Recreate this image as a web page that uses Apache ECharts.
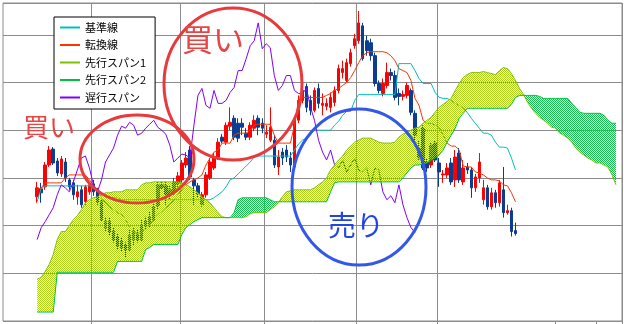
<!DOCTYPE html>
<html><head><meta charset="utf-8">
<script src="https://cdn.jsdelivr.net/npm/echarts@6/dist/echarts.min.js"></script>
<style>html,body{margin:0;padding:0;background:#fff}#c{width:624px;height:324px}</style>
</head><body><div id="c"></div>
<script>
// ---- data (price units) ----
const opens = [1085,1093,1095,1117,1133,1121,1108,1120,1102,1099,
1085,1092,1080,1090,1098,1092,1080,1054,1060,1050,
1045,1040,1037,1032,1042,1047,1042,1055,1057,1062,
1076,1097,1096,1086,1090,1098,1102,1117,1132,1102,
1096,1077,1087,1104,1114,1125,1145,1140,1156,1164,
1159,1159,1149,1145,1154,1164,1159,1148,1142,1142,
1115,1130,1132,1124,1115,1162,1182,1196,1182,1172,
1194,1177,1176,1175,1180,1192,1210,1202,1219,1237,
1242,1257,1242,1240,1227,1199,1189,1197,1210,1207,
1189,1186,1187,1192,1169,1124,1154,1120,1117,1139,
1119,1107,1107,1119,1102,1129,1100,1115,1112,1094,
1104,1082,1094,1075,1089,1079,1092,1069,1071,1051];
const closes = [1094,1089,1117,1132,1119,1109,1123,1104,1095,1087,
1090,1077,1095,1097,1090,1080,1062,1060,1049,1042,
1035,1034,1032,1046,1050,1042,1057,1061,1065,1075,
1097,1094,1087,1092,1100,1106,1119,1124,1105,1096,
1088,1087,1107,1120,1125,1140,1141,1157,1160,1145,
1144,1155,1145,1157,1162,1155,1154,1150,1155,1117,
1125,1124,1125,1117,1162,1182,1192,1175,1172,1192,
1179,1179,1179,1185,1192,1214,1214,1220,1230,1244,
1260,1224,1232,1227,1199,1192,1199,1210,1207,1185,
1186,1188,1197,1170,1147,1134,1114,1114,1137,1122,
1110,1108,1114,1100,1125,1102,1114,1112,1094,1105,
1120,1094,1075,1089,1079,1099,1069,1071,1050,1048];
const lows = [1079,1079,1092,1115,1117,1106,1105,1100,1092,1082,
1077,1074,1077,1087,1086,1077,1060,1050,1046,1039,
1032,1030,1024,1030,1036,1039,1040,1052,1054,1060,
1072,1092,1077,1082,1087,1094,1099,1114,1102,1077,
1084,1075,1084,1102,1112,1122,1139,1137,1152,1142,
1140,1147,1142,1142,1151,1147,1149,1144,1140,1114,
1107,1117,1120,1110,1112,1159,1179,1170,1167,1170,
1174,1167,1172,1170,1176,1189,1204,1200,1216,1234,
1239,1222,1227,1222,1196,1189,1186,1194,1202,1182,
1177,1182,1184,1167,1142,1122,1112,1110,1114,1120,
1095,1099,1104,1097,1095,1099,1097,1108,1084,1090,
1099,1077,1072,1072,1074,1075,1064,1067,1045,1046];
const highs = [1100,1099,1120,1136,1135,1124,1126,1124,1104,1102,
1097,1096,1097,1100,1102,1094,1082,1064,1064,1054,
1048,1044,1039,1052,1054,1052,1062,1065,1070,1079,
1100,1100,1100,1096,1104,1110,1122,1130,1136,1104,
1099,1090,1110,1124,1129,1144,1148,1160,1175,1167,
1164,1164,1154,1160,1167,1167,1164,1157,1175,1147,
1132,1134,1137,1130,1164,1187,1197,1199,1187,1195,
1199,1189,1184,1190,1196,1218,1222,1224,1234,1249,
1272,1260,1247,1244,1230,1202,1204,1220,1214,1212,
1194,1192,1200,1194,1172,1142,1157,1124,1140,1142,
1124,1112,1119,1124,1132,1134,1122,1119,1115,1108,
1129,1102,1097,1094,1092,1102,1115,1077,1074,1059];
const tenkan = [1092,1094,1099,1099,1099,1099,1099,1104,1107,1107,
1107,1107,1107,1102,1097,1092,1084,1079,1075,1072,
1069,1067,1062,1054,1050,1047,1050,1052,1057,1062,
1067,1070,1074,1077,1082,1087,1092,1097,1100,1102,
1104,1107,1117,1124,1130,1132,1139,1139,1139,1147,
1149,1149,1149,1152,1157,1158,1158,1158,1158,1147,
1139,1139,1139,1139,1157,1182,1185,1185,1185,1185,
1185,1185,1187,1189,1192,1194,1197,1200,1205,1212,
1220,1227,1230,1231,1231,1231,1231,1230,1227,1222,
1214,1212,1210,1202,1184,1177,1162,1159,1159,1157,
1155,1147,1139,1136,1136,1132,1116,1115,1115,1110,
1109,1107,1104,1102,1102,1101,1097,1096,1089,1080];
const kijun = [1080,1094,1096,1096,1096,1096,1096,1096,1096,1096,
1096,1096,1096,1096,1094,1092,1089,1085,1085,1084,
1084,1082,1082,1082,1082,1082,1082,1082,1082,1082,
1082,1082,1082,1082,1082,1082,1082,1082,1082,1082,
1082,1082,1082,1082,1084,1087,1090,1095,1102,1104,
1108,1112,1116,1120,1125,1126,1126,1126,1126,1126,
1126,1126,1126,1126,1132,1138,1142,1144,1150,1152,
1152,1152,1152,1152,1157,1161,1167,1171,1171,1182,
1188,1188,1188,1188,1188,1188,1188,1188,1188,1188,
1219,1219,1219,1219,1212,1204,1199,1199,1199,1190,
1185,1184,1184,1182,1179,1177,1174,1170,1164,1159,
1154,1149,1149,1147,1140,1135,1135,1134,1124,1112];
const chikou = [1042,1054,1060,1067,1074,1087,1097,1094,1090,1100,
1112,1124,1126,1114,1097,1090,1102,1120,1127,1134,
1147,1156,1154,1160,1157,1147,1149,1154,1158,1162,
1155,1152,1148,1137,1120,1124,1128,1127,1124,1157,
1187,1194,1177,1174,1192,1179,1179,1182,1190,1195,
1212,1212,1224,1237,1242,1260,1234,1239,1235,1207,
1192,1197,1207,1207,1192,1189,1189,1194,1175,1162,
1142,1130,1122,1132,1117,1114,1122,1110,1117,1124,
1112,1110,1114,1097,1114,1112,1090,1082,1086,1079,
1097,1077,1064,1054,1049];
const senkouA = [1002,1004,1010,1017,1027,1042,1050,1050,1056,1062,
1066,1072,1079,1082,1084,1085,1087,1089,1089,1090,
1090,1090,1092,1092,1092,1092,1097,1099,1099,1100,
1100,1100,1100,1100,1100,1100,1099,1097,1095,1092,
1089,1085,1082,1079,1074,1069,1065,1064,1064,1064,
1064,1064,1065,1068,1069,1069,1069,1069,1072,1075,
1079,1085,1090,1091,1092,1092,1092,1092,1092,1094,
1097,1100,1104,1112,1117,1122,1126,1132,1136,1140,
1142,1144,1144,1144,1142,1140,1139,1139,1139,1140,
1145,1148,1150,1152,1154,1155,1159,1162,1165,1170,
1175,1178,1181,1184,1192,1199,1205,1208,1210,1210,
1210,1211,1210,1209,1208,1212,1215,1214,1209,1202,
1194,1188,1180,1174,1169,1165,1162,1159,1155,1154,
1149,1147,1144,1140,1134,1130,1127,1124,1122,1119,
1119,1117,1115,1107,1097];
const senkouB = [969,969,969,969,969,1009,1009,1009,1009,1009,
1009,1009,1009,1009,1009,1009,1009,1009,1009,1009,
1020,1020,1020,1020,1020,1020,1020,1032,1034,1037,
1037,1037,1037,1037,1037,1037,1047,1054,1057,1060,
1062,1064,1064,1064,1064,1064,1064,1064,1064,1069,
1082,1084,1084,1084,1084,1084,1084,1084,1082,1080,
1080,1080,1080,1080,1080,1080,1080,1080,1080,1080,
1080,1080,1080,1090,1099,1100,1100,1100,1100,1100,
1100,1100,1100,1100,1100,1100,1100,1100,1100,1100,
1100,1104,1109,1114,1117,1117,1118,1119,1122,1124,
1127,1132,1140,1147,1154,1164,1169,1174,1174,1174,
1174,1174,1174,1174,1174,1174,1174,1174,1178,1185,
1187,1187,1187,1187,1187,1186,1184,1184,1184,1184,
1184,1184,1184,1179,1175,1170,1169,1169,1169,1169,
1169,1167,1162,1159,1159];
const monthStarts = [14, 36, 57, 80, 100];   // day index where a new month begins
const extraTicks = [129, 139];
const legendNames = ['基準線','転換線','先行スパン1','先行スパン2','遅行スパン'];

// ---- build ----
const PAD = 8, NCAT = 154;
const categories = Array.from({length: NCAT}, (_, k) => String(k - PAD));
const pair = arr => arr.map((v, i) => [String(i), v]);
const candleData = opens.map((o, i) => [String(i), o, closes[i], lows[i], highs[i]]);
const cloudBase = senkouA.map((a, k) => [String(k), Math.min(a, senkouB[k])]);
const cloudUp = senkouA.map((a, k) => [String(k), Math.max(a - senkouB[k], 0)]);
const cloudDn = senkouA.map((a, k) => [String(k), Math.max(senkouB[k] - a, 0)]);

function checker(color) {
  const c = document.createElement('canvas');
  c.width = 2; c.height = 2;
  const g = c.getContext('2d');
  g.fillStyle = color;
  g.fillRect(0, 0, 1, 1); g.fillRect(1, 1, 1, 1);
  return c;
}
const patYellow = checker('#a8d418');
const patGreen = checker('#10c048');

const GRID = '#8c8c8c';
const chart = echarts.init(document.getElementById('c'), null, {renderer: 'canvas'});
const lineBase = {type: 'line', symbol: 'none', showSymbol: false, silent: true, animation: false};

chart.setOption({
  animation: false,
  backgroundColor: '#fff',
  grid: {left: 3, right: 2, top: 3, bottom: 3, show: true, borderColor: GRID, borderWidth: 1, backgroundColor: '#fff'},
  xAxis: [{
    type: 'category', data: categories, boundaryGap: true,
    axisLine: {show: false}, axisLabel: {show: false},
    axisTick: {show: true, length: 4, interval: (idx) => monthStarts.includes(idx - PAD), lineStyle: {color: GRID}},
    splitLine: {show: true, interval: (idx) => monthStarts.includes(idx - PAD), lineStyle: {color: GRID, width: 1}}
  }, {
    type: 'category', data: categories, boundaryGap: true, position: 'bottom',
    axisLine: {show: false}, axisLabel: {show: false}, splitLine: {show: false},
    axisTick: {show: true, alignWithLabel: true, length: 4, interval: (idx) => extraTicks.includes(idx - PAD), lineStyle: {color: GRID}}
  }],
  yAxis: {
    type: 'value', min: 960, max: 1280, interval: 48,
    axisLine: {show: false}, axisTick: {show: false}, axisLabel: {show: false},
    splitLine: {show: true, lineStyle: {color: GRID, width: 1}}
  },
  legend: {
    show: true, orient: 'vertical', left: 54, top: 17,
    padding: [4, 9, 5, 6], itemWidth: 20, itemHeight: 2, itemGap: 4.5, icon: 'rect',
    backgroundColor: '#fff', borderColor: '#000', borderWidth: 1, borderRadius: 0,
    selectedMode: false, z: 20,
    textStyle: {fontSize: 11, lineHeight: 13, color: '#000', fontFamily: '"Noto Sans CJK JP", sans-serif'},
    data: legendNames
  },
  series: [
    {type: 'candlestick', name: 'ローソク足', data: candleData, encode: {x: 0, y: [1, 2, 3, 4]},
     barWidth: 3, z: 2, silent: true,
     itemStyle: {color: '#ff0000', color0: '#0b3d91', borderColor: '#ff0000', borderColor0: '#0b3d91', borderWidth: 1}},
    Object.assign({}, lineBase, {name: '基準線', data: pair(kijun), z: 3, lineStyle: {color: '#00c0c0', width: 1}, itemStyle: {color: '#00c0c0'}}),
    Object.assign({}, lineBase, {name: '転換線', data: pair(tenkan), z: 3, lineStyle: {color: '#ff3300', width: 1}, itemStyle: {color: '#ff3300'}}),
    Object.assign({}, lineBase, {name: '遅行スパン', data: pair(chikou), z: 3, lineStyle: {color: '#8000ff', width: 1}, itemStyle: {color: '#8000ff'}}),
    Object.assign({}, lineBase, {name: 'cloudBase', data: cloudBase, stack: 'cloud', z: 4, lineStyle: {width: 0, opacity: 0}}),
    Object.assign({}, lineBase, {name: 'cloudUp', data: cloudUp, stack: 'cloud', z: 4, lineStyle: {width: 0, opacity: 0},
      areaStyle: {color: {image: patYellow, repeat: 'repeat'}, opacity: 1}}),
    Object.assign({}, lineBase, {name: 'cloudDn', data: cloudDn, stack: 'cloud', z: 4, lineStyle: {width: 0, opacity: 0},
      areaStyle: {color: {image: patGreen, repeat: 'repeat'}, opacity: 1}}),
    Object.assign({}, lineBase, {name: '先行スパン1', data: pair(senkouA), z: 5, lineStyle: {color: '#80c000', width: 1}, itemStyle: {color: '#80c000'}}),
    Object.assign({}, lineBase, {name: '先行スパン2', data: pair(senkouB), z: 5, lineStyle: {color: '#00c040', width: 1}, itemStyle: {color: '#00c040'}})
  ],
  graphic: [
    {type: 'ellipse', z: 50, silent: true, shape: {cx: 137, cy: 159, rx: 57, ry: 44}, style: {fill: 'none', stroke: '#e8393c', lineWidth: 3}},
    {type: 'ellipse', z: 50, silent: true, shape: {cx: 233, cy: 84, rx: 69, ry: 76}, style: {fill: 'none', stroke: '#e8393c', lineWidth: 3}},
    {type: 'ellipse', z: 50, silent: true, shape: {cx: 359, cy: 187, rx: 67, ry: 78}, style: {fill: 'none', stroke: '#3358e8', lineWidth: 3}},
    {type: 'text', z: 50, silent: true, x: 23, y: 114, style: {text: '買い', fill: '#e84444', font: '26px "Noto Sans CJK JP", sans-serif'}},
    {type: 'text', z: 50, silent: true, x: 182, y: 24, style: {text: '買い', fill: '#e84444', font: '31px "Noto Sans CJK JP", sans-serif'}},
    {type: 'text', z: 50, silent: true, x: 328, y: 211, style: {text: '売り', fill: '#2244e0', font: '28px "Noto Sans CJK JP", sans-serif'}}
  ]
});
</script>
</body></html>
